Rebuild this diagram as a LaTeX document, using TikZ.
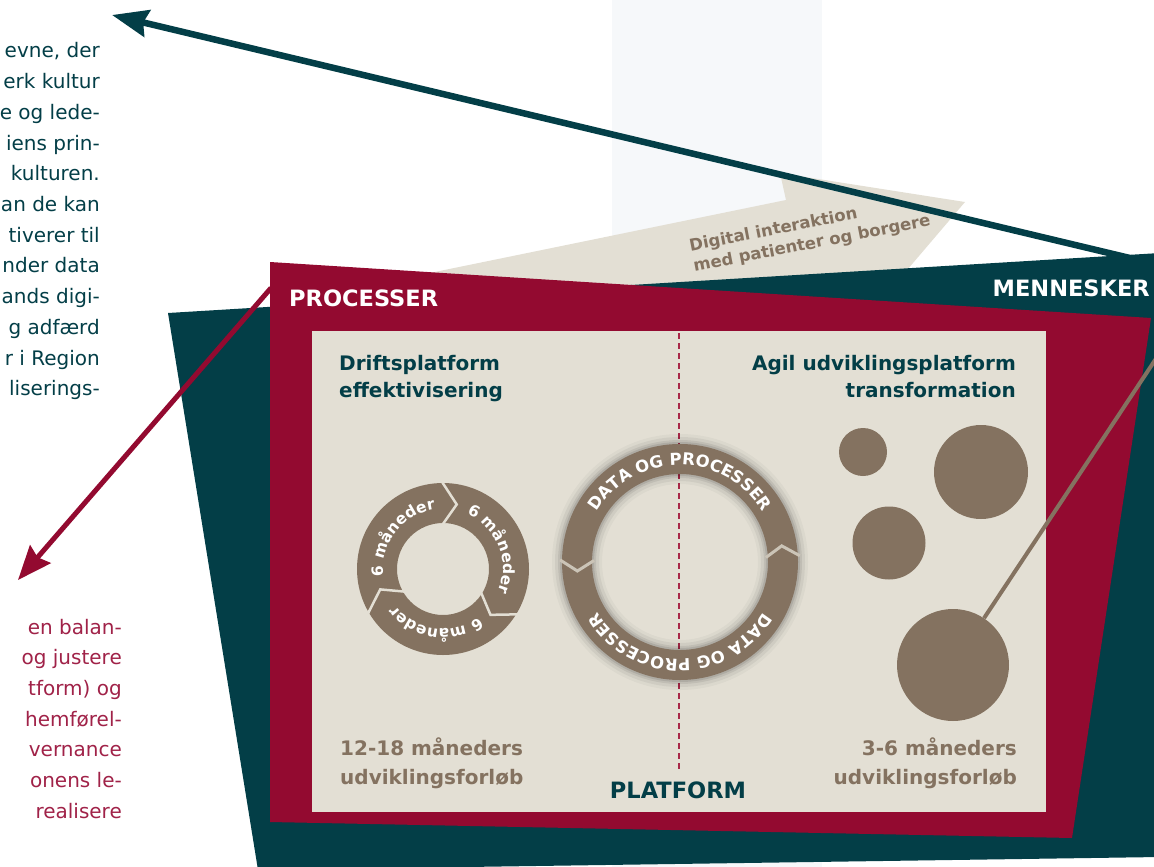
\documentclass[tikz,border=0pt]{standalone}
\usepackage{fontspec}
\setmainfont{DejaVu Sans}
\usetikzlibrary{arrows.meta, decorations.text, positioning}
\definecolor{menteal}{RGB}{3,62,71}
\definecolor{promaroon}{RGB}{147,10,48}
\definecolor{platbeige}{RGB}{227,223,212}
\definecolor{dotbrown}{RGB}{132,114,96}
\definecolor{bandgrey}{RGB}{246,248,250}
\definecolor{sidered}{RGB}{160,34,72}
\definecolor{dashred}{RGB}{168,40,72}
\newcommand\monthfont{\fontsize{15.5}{15.5}\selectfont\bfseries}
\newcommand\ringfont{\fontsize{16.5}{16.5}\selectfont\bfseries}

\begin{document}
\begin{tikzpicture}[x=1pt, y=-1pt,
    sidetext/.style={anchor=base east, inner sep=0pt, font=\fontsize{20}{20}\selectfont},
    headline/.style={inner sep=0pt, text=menteal, font=\fontsize{20}{27}\selectfont\bfseries},
    spanline/.style={inner sep=0pt, text=dotbrown, font=\fontsize{20}{29}\selectfont\bfseries},
    tagline/.style={inner sep=0pt, font=\fontsize{22.5}{22.5}\selectfont\bfseries},
    dot/.style={circle, fill=dotbrown, inner sep=0pt},
    pin/.style={dotbrown, line width=4pt},
    menarrow/.style={menteal, line width=6.5pt, -{Stealth[length=36pt, width=27pt, inset=4pt]}},
    proarrow/.style={promaroon, line width=5pt, -{Stealth[length=34pt, width=27pt, inset=4pt]}},
    platdash/.style={dashred, line width=2pt, dash pattern=on 6pt off 4pt},
    cyclegap/.style={platbeige, line width=2.5pt},
    ringgap/.style={platbeige!75!dotbrown, line width=3pt}]
  \useasboundingbox (0,0) rectangle (1154,867);
  % faint band behind
  \fill[bandgrey] (612,0) rectangle (822,867);
  % digital interaction arrow
  \fill[platbeige] (420,275) -- (786,200) -- (780,173) -- (965,202) -- (890,290) -- (420,290) -- cycle;
  \node[inner sep=0pt, rotate=11, align=left, text=dotbrown, font=\fontsize{16.5}{21}\selectfont\bfseries] (digital) at (810,234) {Digital interaktion\\med patienter og borgere};
  % arrow to the text above
  \coordinate (menStart) at (1134,259);
  \coordinate (menTip) at (112,15);
  \draw[menarrow] (menStart) -- (menTip);
  % people, processes, platform
  \fill[menteal] (168,313) -- (1160,253) -- (1160,857) -- (258,870) -- cycle;
  \fill[promaroon] (270,262) -- (1151,318) -- (1072,838) -- (270,822) -- cycle;
  \coordinate (proStart) at (271,288);
  \coordinate (proTip) at (18,580);
  \draw[proarrow] (proStart) -- (proTip);
  \fill[platbeige] (312,331) rectangle (1046,812);
  \coordinate (dashTop) at (679,333);
  \coordinate (dashBot) at (679,772);
  \draw[platdash] (dashTop) -- (dashBot);
  \node[tagline, text=white, anchor=base west] (processer) at (289,306) {PROCESSER};
  \node[tagline, text=white, anchor=base east] (mennesker) at (1150,296) {MENNESKER};
  \node[tagline, text=menteal, anchor=base] (platform) at (678,798) {PLATFORM};
  \node[headline, align=left, anchor=base west] (drift) at (339,397) {Driftsplatform\\effektivisering};
  \node[headline, align=right, anchor=base east] (agil) at (1016,397) {Agil udviklingsplatform\\transformation};
  \node[spanline, align=left, anchor=base west] (longrun) at (340,784) {12-18 måneders\\udviklingsforløb};
  \node[spanline, align=right, anchor=base east] (shortrun) at (1017,784) {3-6 måneders\\udviklingsforløb};
  % six month cycle
  \begin{scope}[shift={(443,569)}, y=1pt]
    \fill[dotbrown, even odd rule] (0,0) circle[radius=86] (0,0) circle[radius=46];
    \foreach \a in {91,-31,211}
      \draw[cyclegap] (\a:88) -- (\a-13:66) -- (\a:44);
    \foreach \c in {142,22,-98}
      \path[decorate, decoration={text along path, text={|\monthfont|6 måneder}, text color=white, text align=center}] (\c+60:60) arc (\c+60:\c-60:60);
  \end{scope}
  % data and processes ring
  \begin{scope}[shift={(680,562)}, y=1pt]
    \foreach \s/\o in {10/0.03, 7/0.05, 4/0.07, 2/0.09}
      \fill[black, opacity=\o, even odd rule] (0,0) circle[radius=118+\s] (0,0) circle[radius=88-\s];
    \fill[dotbrown, even odd rule] (0,0) circle[radius=118] (0,0) circle[radius=88];
    \foreach \a in {3,179}
      \draw[ringgap] (\a:120) -- (\a+6:103) -- (\a:86);
    \foreach \c in {90,-90}
      \path[decorate, decoration={text along path, text={|\ringfont|DATA OG PROCESSER}, text color=white, text align=center}] (\c+70:97) arc (\c+70:\c-70:97);
  \end{scope}
  % agile dots
  \node[dot, minimum size=48pt] (dotSmall) at (863,452) {};
  \node[dot, minimum size=94pt] (dotBig) at (981,472) {};
  \node[dot, minimum size=73pt] (dotMid) at (889,543) {};
  \node[dot, minimum size=112pt] (dotHuge) at (953,665) {};
  \coordinate (pinEnd) at (1175,330);
  \draw[pin] (dotHuge) -- (pinEnd);
  % text column, cut at the left edge
  \foreach \txt [count=\i] in {{evne, der},{erk kultur},{e og lede-},{iens prin-},{kulturen.},{an de kan},{tiverer til},{nder data},{ands digi-},{g adfærd},{r i Region},{liserings-}}
    \node[sidetext, text=menteal] (blue\i) at (100,{27.3+30.7*\i}) {\txt};
  \foreach \txt [count=\i] in {{en balan-},{og justere},{tform) og},{hemførel-},{vernance},{onens le-},{realisere}}
    \node[sidetext, text=sidered] (red\i) at (122,{603.3+30.7*\i}) {\txt};
\end{tikzpicture}
\end{document}
